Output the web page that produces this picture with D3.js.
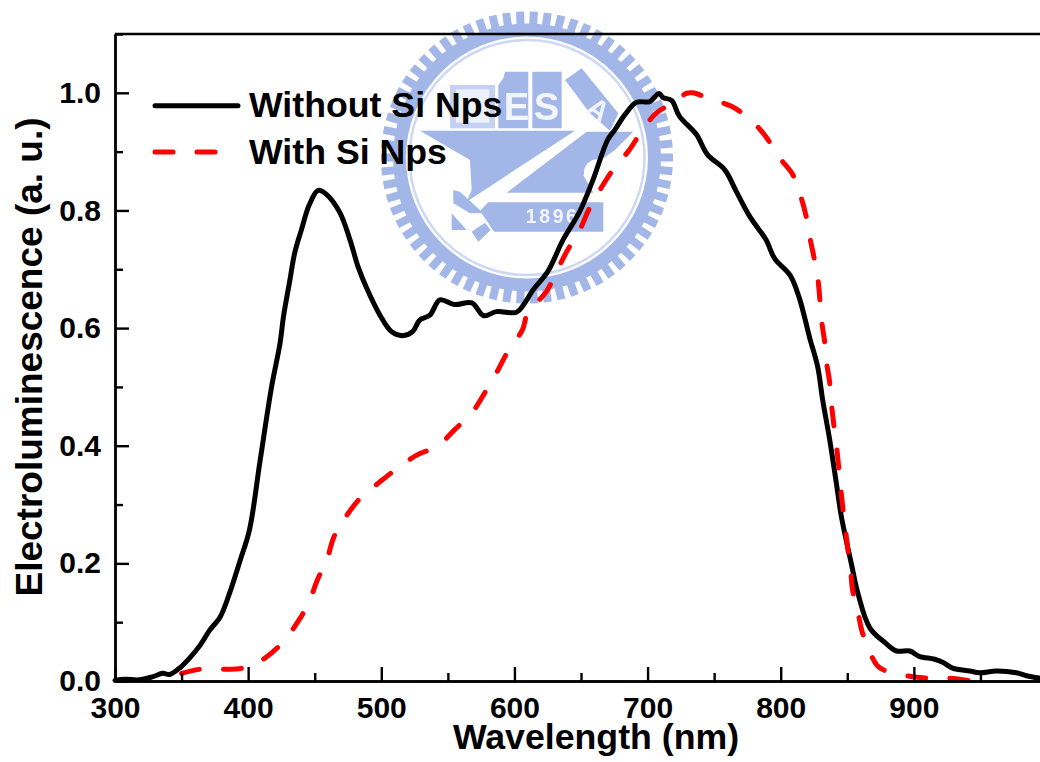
<!DOCTYPE html>
<html>
<head>
<meta charset="utf-8">
<script src="https://cdn.jsdelivr.net/npm/d3@7"></script>
<style>
body {margin: 0; background: white;}
svg {display: block;}
text {font-family: "Liberation Sans", Arial, sans-serif; font-weight: bold; fill: black;}
</style>
</head>
<body>
<div id="chart"></div>
<script>
// values
const withoutWl = [300, 307.5, 318, 328, 336, 341, 349, 356, 364, 371, 379, 386, 394, 401, 409, 417.6, 424, 426.5, 431, 435, 440, 446, 452.6, 459, 469, 476.5, 482.6, 489, 499, 507.7, 516, 523.5, 529, 536.5, 544, 555, 568, 577, 586.5, 601.6, 607, 614, 625, 636.5, 649, 659, 670, 675.4, 683, 691.7, 701.6, 708.6, 711.6, 718, 724, 736.7, 745, 758, 766.7, 776.7, 789, 795.5, 807, 814, 821.8, 827.8, 831.5, 836.8, 841.8, 845.6, 853, 858, 867, 879, 887, 897, 904, 915.6, 921.6, 929, 942, 949.5, 962, 977, 984.6, 994];
const withoutVal = [0.001, 0.003, 0.002, 0.007, 0.013, 0.011, 0.023, 0.039, 0.061, 0.086, 0.109, 0.149, 0.205, 0.257, 0.375, 0.5, 0.575, 0.619, 0.677, 0.728, 0.767, 0.81, 0.834, 0.827, 0.796, 0.75, 0.704, 0.668, 0.622, 0.594, 0.587, 0.594, 0.614, 0.622, 0.648, 0.64, 0.643, 0.621, 0.628, 0.627, 0.64, 0.665, 0.696, 0.75, 0.798, 0.852, 0.92, 0.937, 0.963, 0.984, 0.985, 0.999, 0.992, 0.987, 0.96, 0.929, 0.895, 0.869, 0.832, 0.79, 0.75, 0.718, 0.69, 0.651, 0.583, 0.534, 0.478, 0.41, 0.336, 0.279, 0.2, 0.149, 0.09, 0.064, 0.051, 0.051, 0.042, 0.037, 0.032, 0.022, 0.017, 0.014, 0.017, 0.014, 0.009, 0.005];

const withWl = [350, 364, 381, 396, 412.6, 426, 438, 445.6, 452.6, 459, 464.4, 472.7, 485, 497.5, 514, 526.7, 542.5, 555, 569, 578, 587.5, 595, 606, 610, 624, 631.6, 640, 648.5, 656.6, 664, 674.6, 686, 695.4, 706.7, 720.4, 729, 733.7, 749, 763, 778, 789, 798.6, 809, 815, 819, 822, 825, 828, 830.8, 833, 834.5, 836.8, 838, 839.8, 841.8, 843.5, 845, 846.6, 848.5, 850.3, 852.5, 854, 858, 861, 867.3, 873, 879, 894.5, 909, 925, 941];
const withVal = [0.013, 0.02, 0.02, 0.022, 0.039, 0.066, 0.103, 0.134, 0.175, 0.205, 0.245, 0.277, 0.313, 0.336, 0.365, 0.384, 0.4, 0.427, 0.459, 0.491, 0.528, 0.56, 0.597, 0.626, 0.662, 0.696, 0.733, 0.764, 0.805, 0.834, 0.871, 0.902, 0.934, 0.966, 0.984, 0.999, 1.0, 0.988, 0.977, 0.953, 0.925, 0.891, 0.861, 0.824, 0.791, 0.753, 0.72, 0.682, 0.611, 0.577, 0.541, 0.507, 0.473, 0.437, 0.401, 0.365, 0.33, 0.296, 0.26, 0.226, 0.188, 0.154, 0.117, 0.085, 0.047, 0.025, 0.017, 0.009, 0.005, 0.005, 0.001];

const xTicks = [300, 400, 500, 600, 700, 800, 900];
const xMinor = [350, 450, 550, 650, 750, 850, 950];
const yTicks = [0, 0.2, 0.4, 0.6, 0.8, 1.0];
const yMinor = [0.1, 0.3, 0.5, 0.7, 0.9, 1.1];
const seriesNames = ["Without Si Nps", "With Si Nps"];

//SVG
const width = 1040;
const height = 762;
const margin = {t: 34, b: 81, l: 115, r: -7};
const blue = "#a3b6e8";

const svg = d3.select("#chart")
    .append("svg")
    .attr("width", width)
    .attr("height", height)
    .attr("viewBox", [0, 0, width, height]);

const x = d3.scaleLinear().domain([300, 1000]).range([margin.l, width - margin.r]);
const y = d3.scaleLinear().domain([0, 1.1]).range([height - margin.b, margin.t]);

// school logo behind the plot, drawn in a 3x grid and scaled down
svg.append("filter").attr("id", "soft")
    .append("feGaussianBlur").attr("stdDeviation", 0.6);
const logo = svg.append("g").attr("filter", "url(#soft)");
const cx = 527, cy = 157.5;
logo.append("circle").attr("cx", cx).attr("cy", cy).attr("r", 127.5)
    .attr("fill", "none").attr("stroke", blue).attr("stroke-width", 13);
logo.selectAll(".tooth").data(d3.range(66)).join("rect")
    .attr("class", "tooth")
    .attr("x", cx - 4).attr("y", cy - 146)
    .attr("width", 8).attr("height", 14)
    .attr("fill", blue)
    .attr("transform", d => `rotate(${d * 360 / 66 + 2.7} ${cx} ${cy})`);
logo.append("circle").attr("cx", cx).attr("cy", cy).attr("r", 117.5)
    .attr("fill", "none").attr("stroke", "#cdd8f4").attr("stroke-width", 2.5);

const emblem = logo.append("g").attr("transform", "translate(370,0) scale(0.3333)");
const emblemShapes = [
    "M400,235L405,215H475V385H385V255Z",
    "M487,215H575V385H487Z",
    "M585,240L635,205L745,340L720,392L660,340Z",
    "M150,392H615L290,605L305,570L300,480Z",
    "M410,578L650,395H790L735,450L680,490L640,525L670,578Z",
    "M355,607H700V695H372L330,632Z",
    "M250,570L270,575L340,640L300,640L250,610Z",
    "M245,640L290,690H245Z",
    "M305,695L345,668L362,690L325,725Z"
];
emblem.selectAll("path").data(emblemShapes).join("path")
    .attr("d", d => d)
    .attr("fill", blue);
emblem.append("rect").attr("x", 240).attr("y", 255).attr("width", 135).attr("height", 130)
    .attr("fill", "#c4d1f2");
emblem.append("rect").attr("x", 258).attr("y", 268).attr("width", 100).attr("height", 100)
    .attr("fill", "#edf1fb");
emblem.append("circle").attr("cx", 682).attr("cy", 518).attr("r", 40).attr("fill", "white");

const logoLetters = [["E", 440, 360, 0, 115], ["S", 530, 360, 0, 115], ["A", 668, 352, 35, 85], ["1896", 548, 670, 0, 58]];
emblem.selectAll(".letter").data(logoLetters).join("text")
    .attr("class", "letter")
    .attr("transform", d => `translate(${d[1]},${d[2]}) rotate(${d[3]})`)
    .attr("text-anchor", "middle")
    .attr("font-size", d => d[4])
    .style("fill", "#f2f5fc")
    .style("letter-spacing", d => d[0] === "1896" ? "8px" : null)
    .text(d => d[0]);

// curves
const lineSolid = d3.line().x(d => x(d[0])).y(d => y(d[1])).curve(d3.curveCatmullRom.alpha(0.5));
const lineDash = d3.line().x(d => x(d[0])).y(d => y(d[1])).curve(d3.curveCatmullRom.alpha(0.5));

svg.append("path")
    .attr("d", lineSolid(d3.zip(withoutWl, withoutVal)))
    .attr("fill", "none")
    .attr("stroke", "black")
    .attr("stroke-width", 5)
    .attr("stroke-linejoin", "round")
    .attr("stroke-linecap", "round");

svg.append("path")
    .attr("d", lineDash(d3.zip(withWl, withVal)))
    .attr("fill", "none")
    .attr("stroke", "#ff0000")
    .attr("stroke-width", 5)
    .attr("stroke-dasharray", "18 24.3")
    .attr("stroke-linecap", "round");

// axes
const xAxis = svg.append("g").attr("transform", `translate(0,${y(0)})`)
    .call(d3.axisBottom(x).tickValues(xTicks).tickSize(-14).tickSizeOuter(0).tickFormat(d3.format("d")).tickPadding(16));
const xAxisMinor = svg.append("g").attr("transform", `translate(0,${y(0)})`)
    .call(d3.axisBottom(x).tickValues(xMinor).tickSize(-8).tickSizeOuter(0).tickFormat(""));
const yAxis = svg.append("g").attr("transform", `translate(${x(300)},0)`)
    .call(d3.axisLeft(y).tickValues(yTicks).tickSize(-14).tickSizeOuter(0).tickFormat(d3.format(".1f")).tickPadding(14));
const yAxisMinor = svg.append("g").attr("transform", `translate(${x(300)},0)`)
    .call(d3.axisLeft(y).tickValues(yMinor).tickSize(-8).tickSizeOuter(0).tickFormat(""));
svg.selectAll(".domain, .tick line").attr("stroke", "black").attr("stroke-width", 2.4);
svg.selectAll(".tick text").attr("font-size", 30).attr("font-family", null);

svg.append("line")
    .attr("x1", x(300)).attr("x2", width)
    .attr("y1", y(1.1)).attr("y2", y(1.1))
    .attr("stroke", "black").attr("stroke-width", 2.4);

// axis titles
svg.append("text")
    .attr("x", 596)
    .attr("y", 749)
    .attr("text-anchor", "middle")
    .attr("font-size", 35.7)
    .text("Wavelength (nm)");

svg.append("text")
    .attr("transform", "translate(42,357) rotate(-90)")
    .attr("text-anchor", "middle")
    .attr("font-size", 37)
    .text("Electroluminescence (a. u.)");

// legend
const legendY = [105.7, 152];
svg.append("line")
    .attr("x1", 155).attr("x2", 238).attr("y1", legendY[0]).attr("y2", legendY[0])
    .attr("stroke", "black").attr("stroke-width", 5).attr("stroke-linecap", "round");
svg.append("line")
    .attr("x1", 155).attr("x2", 215).attr("y1", legendY[1]).attr("y2", legendY[1])
    .attr("stroke", "#ff0000").attr("stroke-width", 5)
    .attr("stroke-dasharray", "18 24").attr("stroke-linecap", "round");
svg.selectAll(".legend-label").data(seriesNames).join("text")
    .attr("class", "legend-label")
    .attr("x", 249)
    .attr("y", (d, i) => legendY[i] + 11.5)
    .attr("font-size", 35.7)
    .text(d => d);
</script>
</body>
</html>
